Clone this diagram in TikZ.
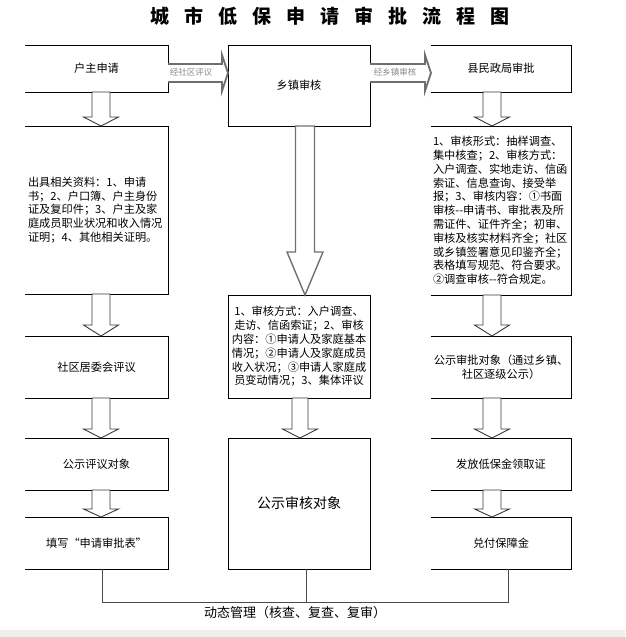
\documentclass[tikz,border=0pt]{standalone}
\usepackage{fontspec}
\setmainfont{Noto Sans CJK SC}
\usetikzlibrary{calc}
\definecolor{bandgray}{HTML}{EFEEEA}
\definecolor{arrgray}{HTML}{3A3A3A}
\definecolor{biggray}{HTML}{707070}
\definecolor{hgray}{HTML}{6E6E6E}
\definecolor{labgray}{HTML}{8A8A8A}
\definecolor{conngray}{HTML}{4A4A4A}
\newcommand\openbox[1]{\draw[side] (#1.north west) -- (#1.north east) -- (#1.south east) -- (#1.south west);}
% style, x, from, to, half shaft, half head, head length
\newcommand\vblock[7]{%
  \draw[#1] ($(#2,0 |- #3.south)+(-#5,0)$) -- ($(#2,0 |- #4.north)+(-#5,-#7)$) -- ($(#2,0 |- #4.north)+(-#6,-#7)$) -- (#2,0 |- #4.north) -- ($(#2,0 |- #4.north)+(#6,-#7)$) -- ($(#2,0 |- #4.north)+(#5,-#7)$) -- ($(#2,0 |- #3.south)+(#5,0)$) -- cycle;}
% from, to
\newcommand\hblock[2]{%
  \draw[harr] (#1.east |- 0,64) -- ($(#2.west |- 0,64)+(-6,0)$) -- ($(#2.west |- 0,55)+(-6,0)$) -- (#2.west |- 0,73) -- ($(#2.west |- 0,91)+(-6,0)$) -- ($(#2.west |- 0,82)+(-6,0)$) -- (#1.east |- 0,82);}
\begin{document}
\begin{tikzpicture}[x=1pt,y={(0,-1pt)},
  bx/.style={anchor=north west, inner sep=0pt, outer sep=0pt, font=\fontsize{11.2}{13.8}\selectfont},
  fullbx/.style={bx, draw, line width=0.9pt},
  side/.style={draw, line width=0.9pt},
  varr/.style={draw=arrgray, fill=white, line width=0.9pt},
  bigarr/.style={draw=biggray, fill=white, line width=1.4pt},
  harr/.style={draw=hgray, fill=white, line width=1.8pt},
  hlab/.style={font=\fontsize{8.5}{8.5}\selectfont, text=labgray, inner sep=0pt},
  conn/.style={draw=conngray, line width=0.9pt}]
\useasboundingbox (0,0) rectangle (625,637);
\fill[bandgray] (0,630) rectangle (625,637);

\node (title) at (330,16) {\fontsize{19}{19}\selectfont\bfseries 城\hspace{15pt}市\hspace{15pt}低\hspace{15pt}保\hspace{15pt}申\hspace{15pt}请\hspace{15pt}审\hspace{15pt}批\hspace{15pt}流\hspace{15pt}程\hspace{15pt}图};

% left column
\node[bx, minimum width=143pt, minimum height=47pt] (L1) at (25,45) {户主申请};
\node[bx, minimum width=143pt, minimum height=168pt, text width=137pt, align=left] (L2) at (25,126) {出具相关资料：1、申请\\书；2、户口簿、户主身份\\证及复印件；3、户主及家\\庭成员职业状况和收入情况\\证明；4、其他相关证明。};
\node[bx, minimum width=143pt, minimum height=62pt] (L3) at (25,336) {社区居委会评议};
\node[bx, minimum width=143pt, minimum height=52pt] (L4) at (25,438) {公示评议对象};
\node[bx, minimum width=143pt, minimum height=52pt] (L5) at (25,517) {填写“申请审批表”};
\foreach \n in {L1,L2,L3,L4,L5} {\openbox{\n}}

% middle column
\node[fullbx, minimum width=142pt, minimum height=81pt] (M1) at (228,45) {乡镇审核};
\node[fullbx, minimum width=142pt, minimum height=103pt, text width=140pt, align=center] (M2) at (228,295) {1、审核方式：入户调查、\\走访、信函索证；2、审核\\内容：①申请人及家庭基本\\情况；②申请人及家庭成员\\收入状况；③申请人家庭成\\员变动情况；3、集体评议};
\node[fullbx, minimum width=142pt, minimum height=131pt, font=\fontsize{14}{16}\selectfont] (M3) at (228,438) {公示审核对象};

% right column
\node[bx, minimum width=140pt, minimum height=47pt] (R1) at (431,45) {县民政局审批};
\node[bx, minimum width=140pt, minimum height=169pt, text width=136pt, align=left] (R2) at (431,126) {1、审核形式：抽样调查、\\集中核查；2、审核方式：\\入户调查、实地走访、信函\\索证、信息查询、接受举\\报；3、审核内容：①书面\\审核-{}-申请书、审批表及所\\需证件、证件齐全；初审、\\审核及核实材料齐全；社区\\或乡镇签署意见印鉴齐全；\\表格填写规范、符合要求。\\②调查审核-{}-符合规定。};
\node[bx, minimum width=140pt, minimum height=62pt, align=center] (R3) at (431,336) {公示审批对象（通过乡镇、\\社区逐级公示）};
\node[bx, minimum width=140pt, minimum height=52pt] (R4) at (431,438) {发放低保金领取证};
\node[bx, minimum width=140pt, minimum height=52pt] (R5) at (431,517) {兑付保障金};
\foreach \n in {R1,R2,R3,R4,R5} {\openbox{\n}}

% horizontal block arrows
\hblock{L1}{M1}
\hblock{M1}{R1}
\node[hlab] (lab1) at (191,72) {经社区评议};
\node[hlab] (lab2) at (395,72) {经乡镇审核};

% vertical block arrows
\vblock{varr}{101}{L1}{L2}{9}{17.5}{9}
\vblock{varr}{101}{L2}{L3}{9}{17.5}{11}
\vblock{varr}{101}{L3}{L4}{9}{17.5}{9}
\vblock{varr}{101}{L4}{L5}{9}{17.5}{8}
\vblock{bigarr}{305}{M1}{M2}{9.5}{18}{43}
\vblock{varr}{300}{M2}{M3}{8}{17.5}{9}
\vblock{varr}{492}{R1}{R2}{9}{17.5}{9}
\vblock{varr}{492}{R2}{R3}{9}{17.5}{11}
\vblock{varr}{492}{R3}{R4}{9}{17.5}{9}
\vblock{varr}{492}{R4}{R5}{9}{17.5}{8}

% dynamic management connector
\coordinate (jl) at (102,602);
\coordinate (jm) at (306,602);
\coordinate (jr) at (508,602);
\draw[conn] (102,0 |- L5.south) -- (jl) -- (jr) -- (508,0 |- R5.south);
\draw[conn] (306,0 |- M3.south) -- (jm);
\node[font=\fontsize{13}{13}\selectfont, inner sep=0pt] (dyn) at (295,613) {动态管理（核查、复查、复审）};
\end{tikzpicture}
\end{document}
